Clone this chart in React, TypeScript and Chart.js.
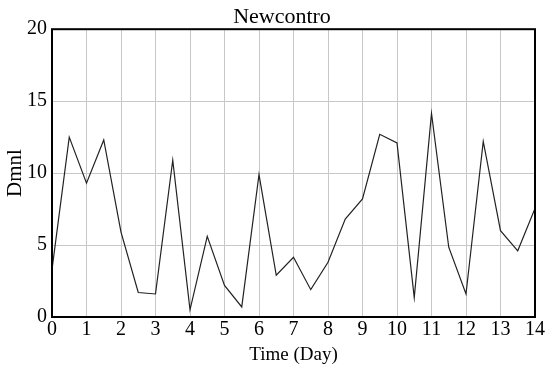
import React, { useEffect, useRef } from "react";
import { Chart, registerables } from "chart.js";

Chart.register(...registerables);

const days: number[] = [0, 0.5, 1, 1.5, 2, 2.5, 3, 3.5, 4, 4.5, 5, 5.5, 6, 6.5, 7, 7.5, 8, 8.5, 9, 9.5, 10, 10.5, 11, 11.5, 12, 12.5, 13, 13.5, 14];
const newcontro: number[] = [3.3, 12.5, 9.3, 12.3, 5.9, 1.7, 1.6, 10.9, 0.5, 5.6, 2.2, 0.7, 9.9, 2.9, 4.15, 1.9, 3.8, 6.8, 8.2, 12.7, 12.1, 1.35, 14.15, 4.85, 1.6, 12.2, 6.0, 4.6, 7.55];

const chartTitle = "Newcontro";
const xTitle = "Time (Day)";
const yTitle = "Dmnl";

const serif = "'Liberation Serif', 'Times New Roman', serif";

const frame = {
  id: "frame",
  afterDatasetsDraw(chart: any) {
    const { ctx, chartArea } = chart;
    ctx.save();
    ctx.strokeStyle = "#000";
    ctx.lineWidth = 2;
    ctx.strokeRect(chartArea.left, chartArea.top, chartArea.right - chartArea.left, chartArea.bottom - chartArea.top);
    ctx.restore();
  },
};

const titleText = {
  id: "titleText",
  afterDraw(chart: any) {
    const { ctx } = chart;
    ctx.save();
    ctx.fillStyle = "#000";
    ctx.font = `normal 22px ${serif}`;
    ctx.textAlign = "center";
    ctx.textBaseline = "alphabetic";
    ctx.fillText(chartTitle, 282, 23);
    ctx.restore();
  },
};

export default function App() {
  const ref = useRef<HTMLCanvasElement | null>(null);
  useEffect(() => {
    if (!ref.current) return;
    const chart = new Chart(ref.current, {
      type: "line",
      data: {
        datasets: [
          {
            label: chartTitle,
            data: days.map((d, i) => ({ x: d, y: newcontro[i] })),
            borderColor: "#222",
            borderWidth: 1.2,
            pointRadius: 0,
            tension: 0,
            fill: false,
          },
        ],
      },
      options: {
        animation: false,
        responsive: false,
        maintainAspectRatio: false,
        layout: { padding: { left: 0, right: 0, top: 0, bottom: 0 } },
        plugins: {
          legend: { display: false },
          tooltip: { enabled: false },
          title: {
            display: true,
            text: "",
            font: { family: serif, size: 21, weight: "normal" },
            padding: { top: 3, bottom: 1 },
          },
        },
        scales: {
          x: {
            type: "linear",
            min: 0,
            max: 14,
            ticks: { stepSize: 1, color: "#000", font: { family: serif, size: 20 }, padding: 1, maxRotation: 0 },
            grid: { color: "#c8c8c8", lineWidth: 1, drawTicks: false },
            border: { display: false },
            title: { display: true, text: xTitle, color: "#000", font: { family: serif, size: 19 }, padding: { top: 0, bottom: 2 } },
            afterFit: (s: any) => { s.height = 51; },
          },
          y: {
            min: 0,
            max: 20,
            ticks: { stepSize: 5, color: "#000", font: { family: serif, size: 20 }, padding: 5 },
            grid: { color: "#c8c8c8", lineWidth: 1, drawTicks: false },
            border: { display: false },
            title: { display: true, text: yTitle, color: "#000", font: { family: serif, size: 21 }, padding: { top: 3, bottom: 0 } },
            afterFit: (s: any) => { s.width = 52; },
          },
        },
      },
      plugins: [frame, titleText],
    });
    return () => chart.destroy();
  }, []);
  return (
    <div style={{ position: "fixed", left: 0, top: 0, width: 546, height: 368, background: "#fff" }}>
      <canvas ref={ref} width={546} height={368} />
    </div>
  );
}
